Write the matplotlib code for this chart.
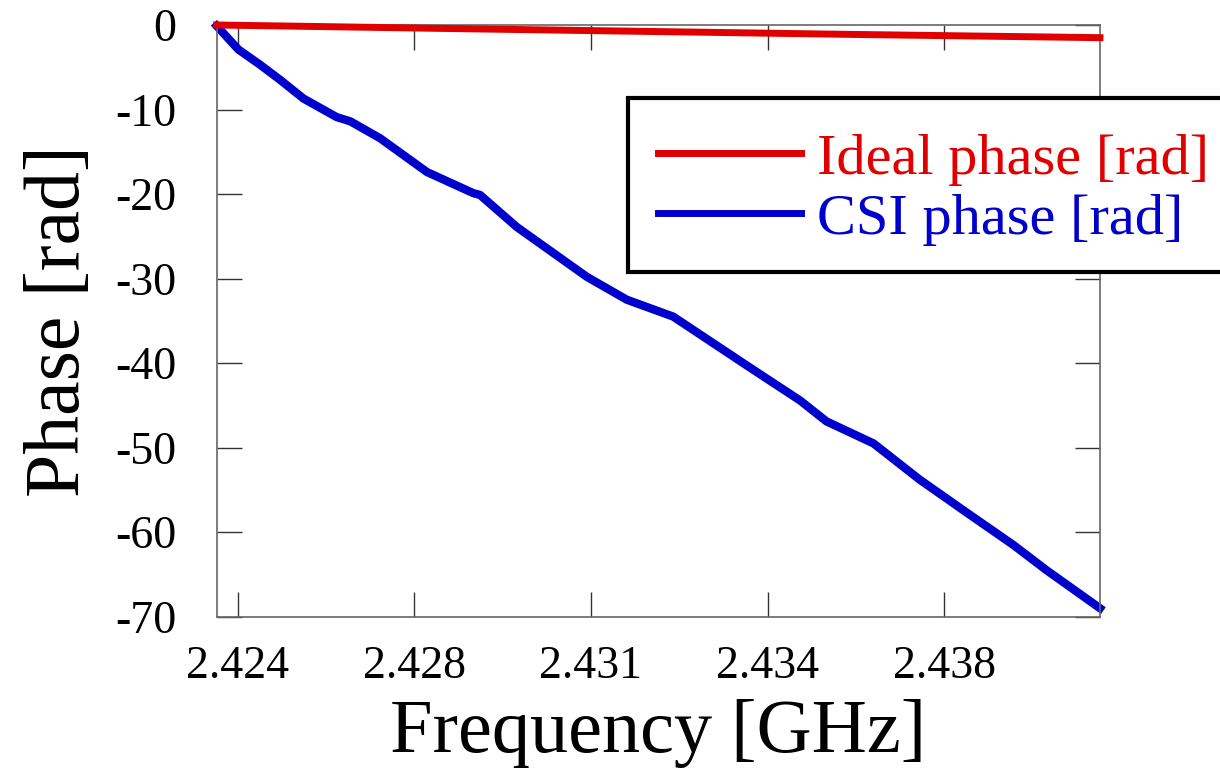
import matplotlib
matplotlib.use("Agg")
import matplotlib.pyplot as plt
from matplotlib.patches import Rectangle

# frequencies in GHz
freq_csi = [2.42358, 2.42401, 2.42444, 2.42484, 2.42530, 2.42596, 2.42623,
            2.42682, 2.42775, 2.42867, 2.42880, 2.42953, 2.43092, 2.43171,
            2.43263, 2.43422, 2.43514, 2.43567, 2.43660, 2.43752, 2.43838,
            2.43937, 2.44003, 2.44109]
phase_csi = [-0.1, -2.9, -4.7, -6.5, -8.7, -10.9, -11.4,
             -13.4, -17.4, -19.9, -20.1, -23.9, -29.8, -32.5,
             -34.5, -40.8, -44.4, -46.9, -49.5, -53.8, -57.4,
             -61.5, -64.5, -69.0]

freq_ideal = [2.42358, 2.42800, 2.43200, 2.43600, 2.44109]
phase_ideal = [0.0, -0.4, -0.75, -1.1, -1.5]

xtick_pos = [2.4240, 2.4275, 2.4310, 2.4345, 2.4380]
xtick_lab = ['2.424', '2.428', '2.431', '2.434', '2.438']
ytick_pos = [0, -10, -20, -30, -40, -50, -60, -70]

plt.rcParams['font.family'] = ['Liberation Serif', 'DejaVu Serif']

fig = plt.figure(figsize=(12.2, 7.81), dpi=100)
ax = fig.add_axes([0.1776, 0.2104, 0.9016 - 0.1776, 0.968 - 0.2104])

l1, = ax.plot(freq_ideal, phase_ideal, color='#e00000', lw=5, clip_on=False, zorder=3)
l2, = ax.plot(freq_csi, phase_csi, color='#0000cc', lw=6, clip_on=False, zorder=2,
              solid_joinstyle='round')

ax.set_xlim(2.42358, 2.44109)
ax.set_ylim(-70, 0)
ax.set_xticks(xtick_pos)
ax.set_xticklabels(xtick_lab)
ax.set_yticks(ytick_pos)
ax.set_yticklabels([str(v) for v in ytick_pos])

ax.tick_params(direction='in', length=18, width=1.0, color='#333333',
               top=True, right=True, labelsize=33)
ax.tick_params(axis='x', pad=21)
ax.tick_params(axis='y', pad=29)
for s in ax.spines.values():
    s.set_color('#666666')
    s.set_linewidth(1.2)

ax.set_xlabel('Frequency [GHz]', fontsize=55, labelpad=8)
ax.set_ylabel('Phase [rad]', fontsize=56, labelpad=14)

# legend box runs off the right edge of the figure
box = Rectangle((628 / 1220, 1 - 272 / 781), 700 / 1220, 174 / 781,
                transform=fig.transFigure, facecolor='white', edgecolor='black',
                lw=3, zorder=5, clip_on=False)
fig.patches.append(box)

leg = fig.legend([l1, l2], ['Ideal phase [rad]', 'CSI phase [rad]'],
                 loc='upper left', bbox_to_anchor=(658 / 1220, 1 - 133 / 781),
                 frameon=False, fontsize=42, handlelength=2.45,
                 handletextpad=0.27, labelspacing=0.12, borderpad=0,
                 borderaxespad=0)
for txt, c in zip(leg.get_texts(), ['#e00000', '#0000cc']):
    txt.set_color(c)
for h in leg.get_lines():
    h.set_linewidth(5)
leg.set_zorder(6)

fig.savefig('out.png', dpi=100)
